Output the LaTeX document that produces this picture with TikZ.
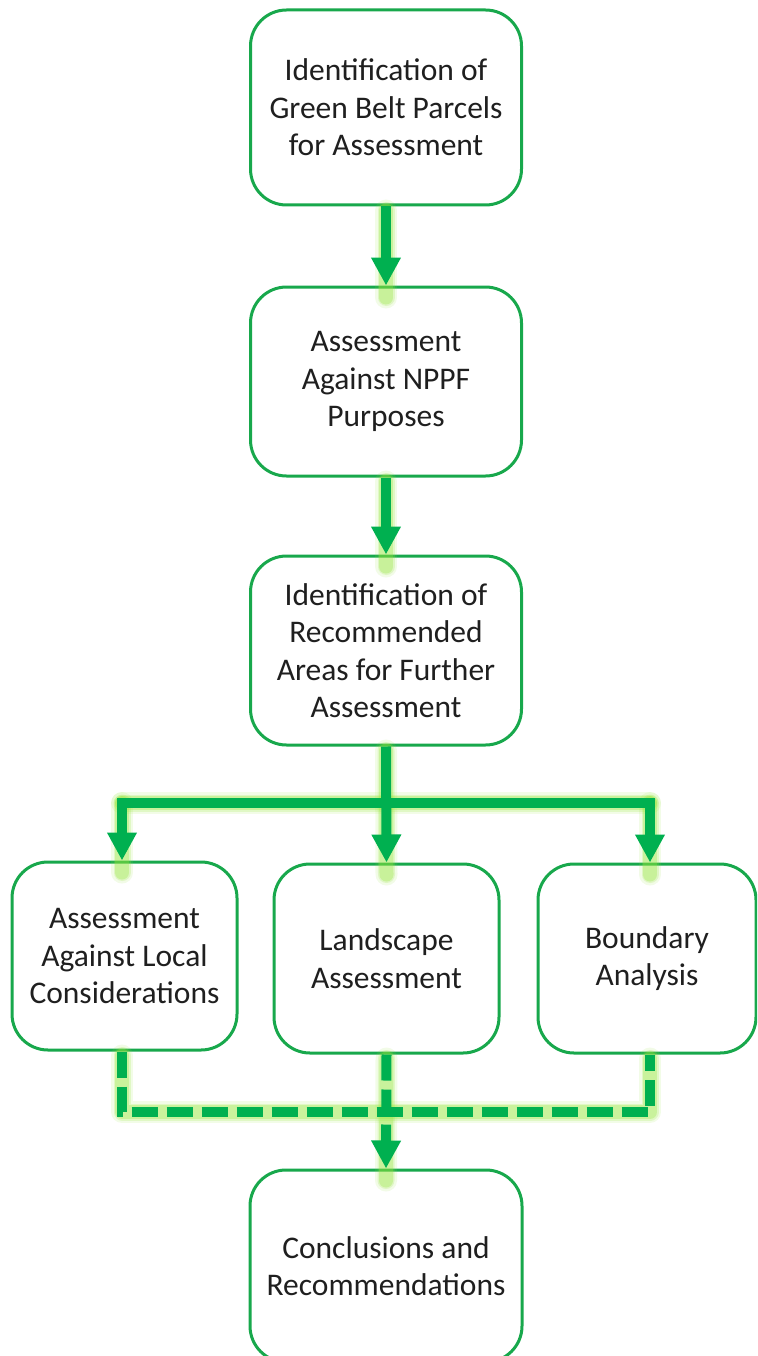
\documentclass[tikz,border=0pt]{standalone}
\usepackage{fontspec}
\setmainfont{Carlito}
\usetikzlibrary{arrows.meta}
\definecolor{boxgreen}{RGB}{24,168,76}
\definecolor{arrgreen}{RGB}{0,176,80}
\definecolor{glowc}{RGB}{150,230,60}
\tikzset{
  stepbox/.style={draw=boxgreen, line width=3pt, rounded corners=36pt, fill=white,
    align=center, inner sep=0pt, font=\fontsize{31.5}{37.5}\selectfont, text=black!88},
  conn/.style={draw=arrgreen, line width=10pt},
  tip/.style={-{Triangle[length=28pt,width=28pt]}},
  dashconn/.style={draw=arrgreen, line width=10pt, dash pattern=on 26pt off 9pt},
  glowa/.style={draw=glowc, line width=22pt, opacity=0.12, line cap=round, line join=round},
  glowb/.style={draw=glowc, line width=17pt, opacity=0.2, line cap=round, line join=round},
  glowd/.style={draw=glowc, line width=14pt, opacity=0.3, line cap=round, line join=round},
}
\newcommand{\glowpath}[1]{\draw[glowa] #1; \draw[glowb] #1; \draw[glowd] #1;}
\begin{document}
\begin{tikzpicture}[x=1pt,y=-1pt]
\useasboundingbox (0,0) rectangle (757,1356);
\clip (0,0) rectangle (757,1356);
% boxes
\node[stepbox, minimum width=271pt, minimum height=195pt] (b1) at (386,107.5)
  {Identification of\\Green Belt Parcels\\for Assessment};
\node[stepbox, minimum width=271pt, minimum height=189pt] (b2) at (386,381.5)
  {Assessment\\Against NPPF\\Purposes};
\node[stepbox, minimum width=271pt, minimum height=189pt] (b3) at (386,650.5)
  {Identification of\\Recommended\\Areas for Further\\Assessment};
\node[stepbox, minimum width=225pt, minimum height=188pt] (l) at (124.5,956)
  {Assessment\\Against Local\\Considerations};
\node[stepbox, minimum width=225pt, minimum height=189pt] (m) at (386.5,958.5)
  {Landscape\\Assessment};
\node[stepbox, minimum width=218pt, minimum height=189pt] (r) at (647,958.5)
  {Boundary\\Analysis};
\node[stepbox, minimum width=272pt, minimum height=192pt] (bt) at (386,1266)
  {Conclusions and\\Recommendations};
% junction coordinates
\coordinate (hl) at (122,803);
\coordinate (hr) at (650,803);
\coordinate (dl) at (122,1112);
\coordinate (dr) at (650,1112);
% glow layer
\glowpath{([yshift=-4pt]b1.south) -- ([yshift=-12pt]b2.north)}
\glowpath{([yshift=-4pt]b2.south) -- ([yshift=-12pt]b3.north)}
\glowpath{([yshift=-4pt]b3.south) -- ([yshift=-12pt]m.north)}
\glowpath{(hl) -- (hr)}
\glowpath{(hl) -- ([yshift=-12pt]hl |- l.north)}
\glowpath{(hr) -- ([yshift=-12pt]hr |- r.north)}
\glowpath{([yshift=-4pt]dl |- l.south) -- (dl) -- (dr) -- ([yshift=-4pt]dr |- r.south)}
\glowpath{([yshift=-4pt]m.south) -- ([yshift=-12pt]bt.north)}
% connectors
\draw[conn, tip] (b1.south) -- (b2.north);
\draw[conn, tip] (b2.south) -- (b3.north);
\draw[conn, tip] (b3.south) -- (m.north);
\draw[conn] ([xshift=-5pt]hl) -- ([xshift=5pt]hr);
\draw[conn, tip] ([yshift=-5pt]hl) -- (hl |- l.north);
\draw[conn, tip] ([yshift=-5pt]hr) -- (hr |- r.north);
\draw[dashconn] (dl |- l.south) -- (dl) -- (dr) -- (dr |- r.south);
\draw[dashconn, tip] (m.south) -- (bt.north);
\end{tikzpicture}
\end{document}
